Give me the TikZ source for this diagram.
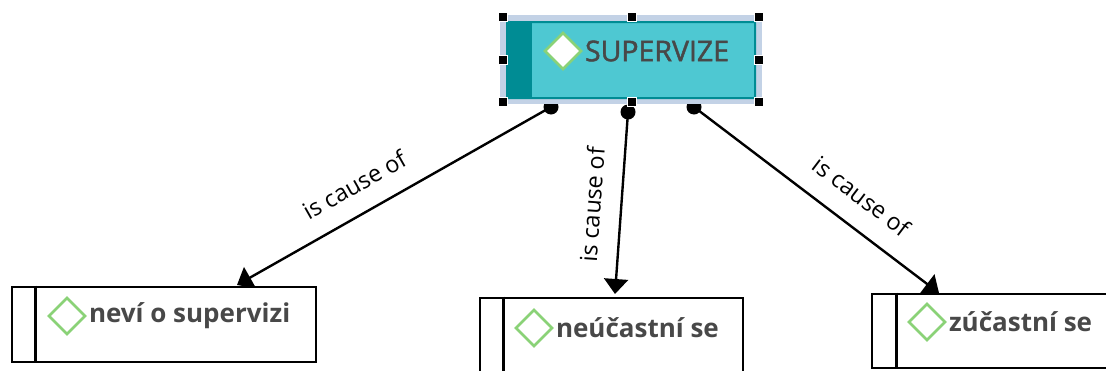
\documentclass[tikz,border=0pt]{standalone}
\usepackage{fontspec}
\setmainfont{Open Sans}
\newfontfamily\titlefont[FakeBold=1.6]{Open Sans}
\usetikzlibrary{arrows.meta,positioning,shapes.geometric}

\definecolor{tealfill}{HTML}{4EC8D2}
\definecolor{tealdark}{HTML}{008C94}
\definecolor{selband}{HTML}{C3D2E6}
\definecolor{textgray}{HTML}{484848}
\definecolor{marker}{HTML}{8AD277}

\tikzset{
	taskbox/.style={draw=black,line width=2.6pt,fill=white,inner sep=0pt},
	marker/.style={diamond,draw=marker,line width=2.6pt,fill=white,inner sep=0pt,minimum width=37pt,minimum height=37pt},
	tasklabel/.style={inner sep=0pt,text=textgray,font=\fontsize{26}{26}\selectfont\bfseries},
	handle/.style={draw=white,line width=.8pt,fill=black,inner sep=0pt,minimum size=9pt},
	dot/.style={circle,fill=black,inner sep=0pt,minimum size=15pt},
	cause/.style={line width=2.4pt,-{Triangle[length=15pt,width=24pt]}},
	causelabel/.style={sloped,inner sep=0pt,text=black,font=\fontsize{23.5}{23.5}\selectfont}
}

\begin{document}
\begin{tikzpicture}[x=1pt,y=-1pt]
	\useasboundingbox (0,0) rectangle (1106,370);
	\clip (0,0) rectangle (1106,370);

	% connectors first, the selection band covers the dots
	\node[dot] (dotnevi) at (551,107) {};
	\node[dot] (dotneucast) at (628,112) {};
	\node[dot] (dotzucast) at (694,107) {};
	\coordinate (endnevi) at (237,285);
	\coordinate (endneucast) at (615,294);
	\coordinate (endzucast) at (939,293);
	\draw[cause] (dotnevi.center) -- (endnevi) node[causelabel,pos=.58,above=19pt] {is cause of};
	\draw[cause] (dotneucast.center) -- (endneucast) node[causelabel,pos=.52,above=19pt] {is cause of};
	\draw[cause] (dotzucast.center) -- (endzucast) node[causelabel,pos=.61,above=20pt] {is cause of};

	% selected box
	\node[fill=selband,inner sep=0pt,minimum width=262pt,minimum height=89pt] (selection) at (631,59.5) {};
	\node[draw=tealdark,line width=2pt,fill=tealfill,rounded corners=1pt,inner sep=0pt,minimum width=248pt,minimum height=76pt] (supervize) at (631,60) {};
	\fill[tealdark] (supervize.north west) rectangle ([xshift=26]supervize.south west);
	\node[marker] (mark0) at (563,51) {};
	\node[inner sep=0pt,text=textgray,font=\fontsize{28.5}{28.5}\titlefont,right=2pt of mark0] (title) {SUPERVIZE};
	\foreach \x/\y [count=\i] in {503/17,632/17,759/17,503/60,759/60,503/102,632/102,759/102}
	\node[handle] (handle\i) at (\x,\y) {};

	% lower boxes
	\node[taskbox,minimum width=304pt,minimum height=75pt] (nevi) at (164,324.5) {};
	\node[taskbox,minimum width=263pt,minimum height=90pt] (neucast) at (611.5,343) {};
	\node[taskbox,minimum width=280pt,minimum height=74pt] (zucast) at (1012,331) {};
	\foreach \n/\d in {nevi/24.5,neucast/24.5,zucast/25.5}
	\draw[line width=2.6pt] ([xshift=\d]\n.north west) -- ([xshift=\d]\n.south west);
	\node[marker] (mark1) at (67,316) {};
	\node[marker] (mark2) at (534,328) {};
	\node[marker] (mark3) at (927,322) {};
	\node[tasklabel,right=2pt of mark1] (label1) {neví o supervizi};
	\node[tasklabel,right=2pt of mark2] (label2) {neúčastní se};
	\node[tasklabel,right=2pt of mark3] (label3) {zúčastní se};
\end{tikzpicture}
\end{document}
